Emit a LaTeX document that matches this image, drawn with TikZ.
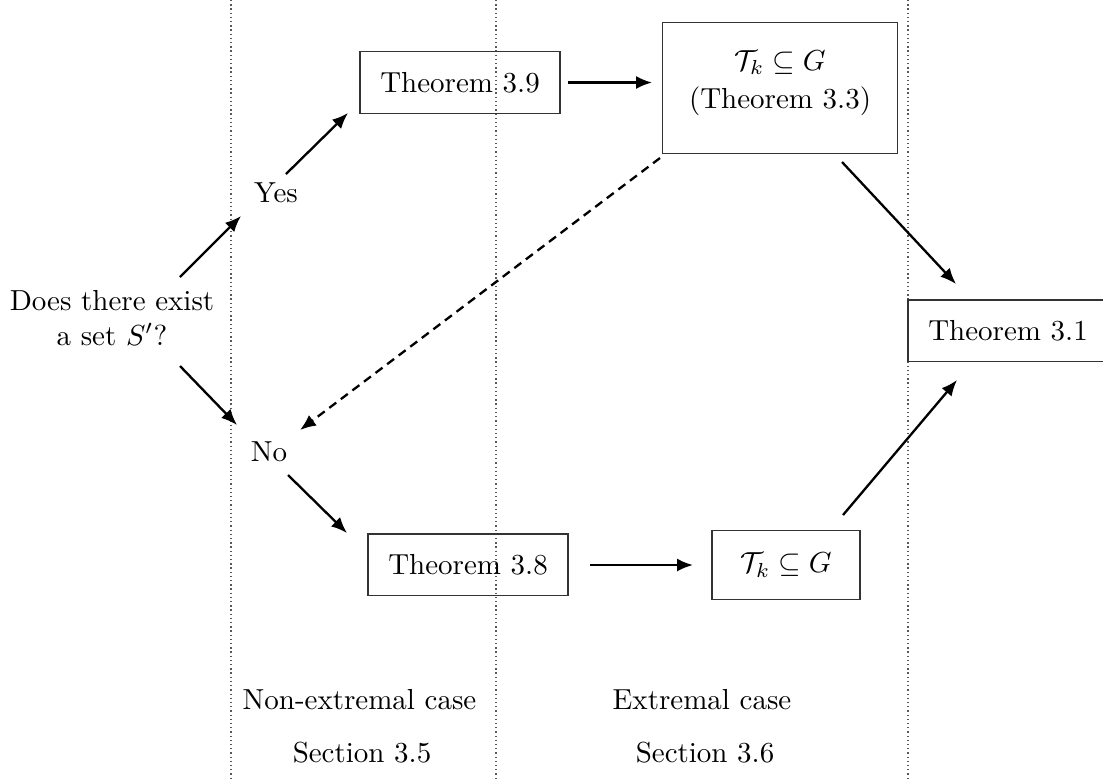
\documentclass[tikz,border=0pt]{standalone}
\usetikzlibrary{calc,arrows.meta}
\tikzset{
  box/.style={draw=black!80, line width=0.45pt, inner sep=7pt, align=center},
  lbl/.style={inner sep=1pt, align=center},
  arr/.style={line width=0.8pt, -{Latex[length=5.5pt,width=4.5pt]}},
  darr/.style={arr, dash pattern=on 3pt off 2pt},
  sepline/.style={draw=black!65, line width=0.45pt, densely dotted}
}
\begin{document}
\begin{tikzpicture}[x=0.345pt,y=-0.345pt]
\useasboundingbox (0,0) rectangle (1103,780);
% separators
\coordinate (s1t) at (231,0); \coordinate (s1b) at (231,780);
\coordinate (s2t) at (496,0); \coordinate (s2b) at (496,780);
\coordinate (s3t) at (908,0); \coordinate (s3b) at (908,780);
\draw[sepline] (s1t) -- (s1b);
\draw[sepline] (s2t) -- (s2b);
\draw[sepline] (s3t) -- (s3b);
% nodes
\node[lbl] (q) at (112,318) {Does there exist\\a set $S'$?};
\node[lbl] (yes) at (276,193) {Yes};
\node[lbl] (no) at (269,452) {No};
\node[box] (t39) at (460,82.5) {Theorem 3.9};
\node[box] (t38) at (468,564.5) {Theorem 3.8};
\node[box, minimum width=81pt, minimum height=45pt] (tk1) at (780,88) {$\mathcal{T}_k\subseteq G$\\[1pt](Theorem 3.3)\rule[-6pt]{0pt}{1pt}};
\node[box, minimum width=51pt, minimum height=24pt] (tk2) at (786,565) {$\mathcal{T}_k\subseteq G$};
\node[box] (t31) at (1008,330.5) {Theorem 3.1};
% section labels
\node[lbl] (nec) at (359.5,700) {Non-extremal case};
\node[lbl] (s35) at (362,753) {Section 3.5};
\node[lbl] (ec) at (702,700) {Extremal case};
\node[lbl] (s36) at (705,753) {Section 3.6};
% connectors
\draw[arr] ($(q)+(68,-41)$) -- ($(yes)+(-35,23)$);
\draw[arr] ($(yes)+(10,-19)$) -- ($(t39)+(-112,30.5)$);
\draw[arr] ($(q)+(68,48)$) -- ($(no)+(-32,-27)$);
\draw[arr] ($(no)+(19,23)$) -- ($(t38)+(-121,-31.5)$);
\draw[arr] ($(t39)+(108,0)$) -- ($(tk1)+(-128,-5.5)$);
\draw[arr] ($(t38)+(122,0.5)$) -- ($(tk2)+(-93,0)$);
\draw[arr] ($(tk1)+(62,74)$) -- ($(t31)+(-52,-46.5)$);
\draw[arr] ($(tk2)+(57,-50)$) -- ($(t31)+(-51,49.5)$);
\draw[darr] ($(tk1)+(-120,70)$) -- ($(no)+(31,-22)$);
\end{tikzpicture}
\end{document}
